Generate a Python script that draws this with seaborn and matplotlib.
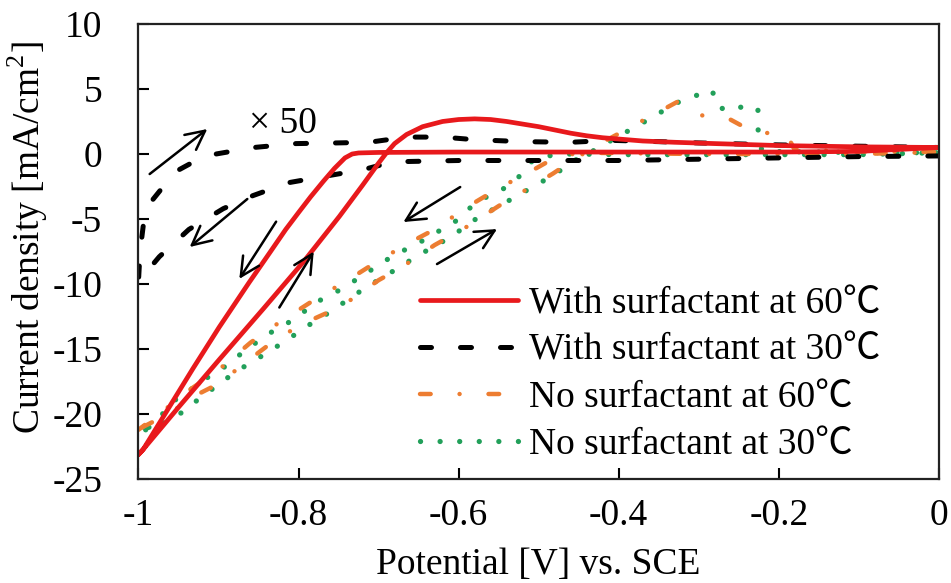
import matplotlib
matplotlib.use("Agg")
import matplotlib.pyplot as plt
import seaborn as sns
import pandas as pd

# ---------------- data ----------------
red_x = [-1.0, -0.994, -0.949, -0.899, -0.844, -0.794, -0.749, -0.72, -0.70, -0.69, -0.68, -0.665,
         -0.645, -0.62, -0.60, -0.58, -0.56, -0.54, -0.52, -0.50, -0.48, -0.46, -0.44, -0.42,
         -0.40, -0.37, -0.33, -0.28, -0.20, -0.10, 0.0,
         -0.10, -0.20, -0.30, -0.40, -0.50, -0.60, -0.70, -0.725, -0.733, -0.742, -0.755,
         -0.769, -0.785, -0.80, -0.816, -0.835, -0.862, -0.899, -0.932, -0.962, -0.994, -1.0]
red_y = [-23.1, -22.7, -19.4, -15.8, -11.9, -8.3, -4.8, -2.4, -0.7, 0.1, 0.8, 1.5,
         2.1, 2.5, 2.65, 2.7, 2.65, 2.5, 2.3, 2.1, 1.85, 1.6, 1.4, 1.25,
         1.15, 1.0, 0.9, 0.8, 0.65, 0.55, 0.5,
         0.2, 0.15, 0.15, 0.15, 0.15, 0.15, 0.12, 0.08, 0.0, -0.3, -1.1,
         -2.1, -3.3, -4.5, -5.8, -7.5, -9.9, -13.3, -16.5, -19.5, -22.7, -23.1]

black_x = [0.0, -0.1, -0.2, -0.3, -0.4, -0.5, -0.6, -0.682, -0.719, -0.766, -0.812, -0.857,
           -0.894, -0.937, -0.974, -1.0,
           -0.998, -0.993, -0.982, -0.965, -0.949, -0.925, -0.903, -0.856, -0.803, -0.753,
           -0.712, -0.665, -0.62, -0.58, -0.52, -0.46, -0.41, -0.35, -0.30, -0.20, -0.10, 0.0]
black_y = [-0.15, -0.2, -0.3, -0.4, -0.5, -0.5, -0.5, -0.6, -1.2, -1.7, -2.2, -3.2,
           -4.2, -5.8, -7.9, -9.8,
           -7.5, -5.0, -3.5, -2.2, -1.2, -0.4, 0.0, 0.5, 0.8, 0.85,
           0.9, 1.3, 1.3, 1.1, 0.95, 0.9, 1.05, 0.95, 0.85, 0.7, 0.6, 0.5]

orange_x = [-0.995, -0.96, -0.93, -0.898, -0.87, -0.84, -0.80, -0.746, -0.70, -0.671, -0.63,
            -0.595, -0.55, -0.517, -0.482, -0.449, -0.42, -0.372, -0.327, -0.30, -0.262,
            -0.232, -0.19, -0.18, -0.10, 0.0,
            -0.10, -0.30, -0.45, -0.48, -0.509, -0.552, -0.59, -0.63, -0.661, -0.70, -0.736,
            -0.78, -0.823, -0.86, -0.90, -0.94, -0.97, -1.0]
orange_y = [-21.0, -19.9, -18.6, -17.6, -16.2, -14.8, -13.2, -11.7, -9.7, -8.7, -7.0,
            -5.8, -4.0, -2.8, -1.5, -0.15, 0.9, 2.5, 4.0, 3.0, 2.7,
            1.7, 1.5, 0.3, 0.2, 0.15,
            0.0, 0.0, 0.1, -0.3, -1.3, -2.7, -4.1, -5.8, -6.8, -8.2, -9.6,
            -11.2, -12.9, -14.5, -16.6, -18.3, -19.8, -21.2]

green_x = [-0.991, -0.965, -0.944, -0.928, -0.891, -0.872, -0.856, -0.837, -0.800, -0.781,
           -0.762, -0.743, -0.724, -0.706, -0.687, -0.648, -0.630, -0.608, -0.574, -0.552,
           -0.515, -0.495, -0.476, -0.458, -0.44, -0.42, -0.401, -0.38, -0.362, -0.342,
           -0.322, -0.303, -0.283, -0.278, -0.263, -0.242, -0.226, -0.226, -0.225, -0.22,
           -0.15, -0.08, 0.0,
           -0.10, -0.20, -0.30, -0.40, -0.465, -0.489, -0.509, -0.52, -0.539, -0.557, -0.576,
           -0.608, -0.627, -0.646, -0.665, -0.684, -0.701, -0.722, -0.741, -0.759, -0.778,
           -0.797, -0.816, -0.834, -0.853, -0.869, -0.888, -0.907, -0.926, -0.943, -0.962,
           -0.974, -0.991, -1.0]
green_y = [-21.2, -20.6, -19.8, -19.0, -17.3, -16.5, -15.9, -15.2, -13.7, -12.9,
           -12.2, -11.4, -10.6, -9.9, -9.2, -7.7, -7.1, -6.3, -4.8, -4.1,
           -2.8, -2.1, -1.4, -0.6, 0.0, 0.6, 1.4, 2.0, 2.7, 3.4,
           4.1, 4.5, 4.9, 3.7, 3.3, 3.7, 3.5, 2.2, 0.8, 0.2,
           0.15, 0.1, 0.1,
           -0.05, -0.05, -0.05, -0.05, 0.0, -0.15, -0.6, -1.5, -2.5, -3.1, -3.6,
           -5.4, -6.0, -6.7, -7.3, -7.9, -8.6, -9.4, -10.2, -10.8, -11.4,
           -12.3, -13.1, -13.7, -14.5, -15.2, -16.2, -16.9, -17.7, -18.5, -19.2,
           -20.4, -21.2, -21.4]

series_labels = ["With surfactant at 60\u2103", "With surfactant at 30\u2103",
                 "No surfactant at 60\u2103", "No surfactant at 30\u2103"]

x_ticks = [-1, -0.8, -0.6, -0.4, -0.2, 0]
x_tick_labels = ["-1", "-0.8", "-0.6", "-0.4", "-0.2", "0"]
y_ticks = [10, 5, 0, -5, -10, -15, -20, -25]
y_tick_labels = ["10", "5", "0", "-5", "-10", "-15", "-20", "-25"]

# sweep-direction arrows: (tail, head)
arrows = [((-0.986, -1.54), (-0.914, 1.92)),
          ((-0.864, -3.46), (-0.936, -7.15)),
          ((-0.828, -5.2), (-0.874, -9.6)),
          ((-0.824, -11.8), (-0.781, -7.5)),
          ((-0.598, -2.54), (-0.669, -5.23)),
          ((-0.627, -8.46), (-0.552, -5.77))]
scale_note = "\u00d7 50"

# ---------------- style ----------------
sns.set_theme(style="white")
fam = ["Liberation Serif", "Noto Sans CJK JP", "DejaVu Sans"]
plt.rcParams["font.family"] = fam
plt.rcParams["mathtext.fontset"] = "custom"
plt.rcParams["mathtext.rm"] = "Liberation Serif"
plt.rcParams["text.color"] = "black"
plt.rcParams["axes.labelcolor"] = "black"
plt.rcParams["xtick.color"] = "black"
plt.rcParams["ytick.color"] = "black"
FS = 27

fig = plt.figure(figsize=(9.51, 5.83), dpi=100)
ax = fig.add_axes([0.1456, 0.178, 0.8416, 0.781])

styles = [
    dict(color="#e8191c", linestyle="-", lw=3.4),
    dict(color="black", linestyle=(0, (2.2, 5.8)), lw=3.6, dash_capstyle="round"),
    dict(color="#ed7d31", linestyle=(0, (2.4, 6.5, 0.01, 6.5)), lw=3.2, dash_capstyle="round"),
    dict(color="#22a05a", linestyle=(0, (0.01, 3.7)), lw=3.8, dash_capstyle="round"),
]
data = [(red_x, red_y), (black_x, black_y), (orange_x, orange_y), (green_x, green_y)]
order = [3, 2, 1, 0]
for i in order:
    xs, ys = data[i]
    df = pd.DataFrame({"x": xs, "y": ys})
    sns.lineplot(data=df, x="x", y="y", sort=False, estimator=None, ax=ax,
                 label=series_labels[i], **styles[i])

for tail, head in arrows:
    ax.annotate("", xy=head, xytext=tail,
                arrowprops=dict(arrowstyle="->", lw=1.8, color="black",
                                mutation_scale=34, shrinkA=0, shrinkB=0))

ax.text(-0.82, 2.3, scale_note, fontsize=27, ha="center", va="center", family=fam)

ax.set_xlim(-1, 0)
ax.set_ylim(-25, 10)
ax.set_xticks(x_ticks)
ax.set_xticklabels(x_tick_labels)
ax.set_yticks(y_ticks)
ax.set_yticklabels(y_tick_labels)
ax.tick_params(axis="both", direction="in", length=8, width=1.5, labelsize=FS,
               colors="black", bottom=True, left=True, top=False, right=False)
ax.tick_params(axis="x", pad=14)
ax.tick_params(axis="y", pad=26)
for s in ax.spines.values():
    s.set_visible(True)
    s.set_color("#222222")
    s.set_linewidth(1.6)

ax.set_xlabel("Potential [V] vs. SCE", fontsize=FS, labelpad=10)
ax.set_ylabel(r"Current density [mA/cm$^{\mathrm{2}}$]", fontsize=FS)
ax.yaxis.set_label_coords(-0.11, 0.53)

handles, labels = ax.get_legend_handles_labels()
lab_order = [labels.index(l) for l in series_labels]
ax.legend([handles[k] for k in lab_order], [labels[k] for k in lab_order],
          loc="upper left", bbox_to_anchor=(0.352, 0.423), frameon=False,
          fontsize=FS, handlelength=2.6, handletextpad=0.3, labelspacing=0.33,
          borderaxespad=0, borderpad=0)

fig.savefig("out.png", dpi=100)
